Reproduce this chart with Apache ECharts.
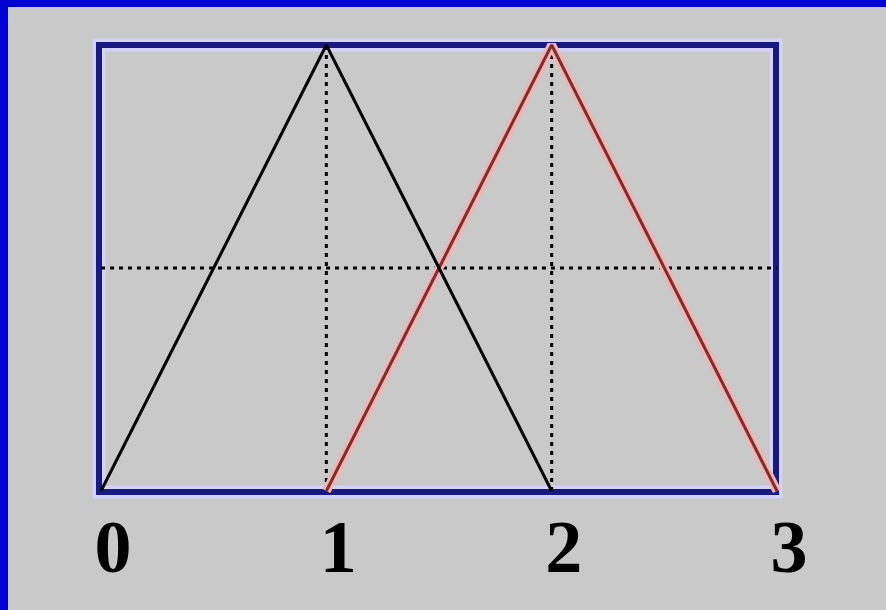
<!DOCTYPE html>
<html>
<head>
<meta charset="utf-8">
<script src="https://cdn.jsdelivr.net/npm/echarts@6/dist/echarts.min.js"></script>
<style>
html, body { margin: 0; padding: 0; background: #c9c9c9; }
#main { width: 886px; height: 610px; }
</style>
</head>
<body>
<div id="main"></div>
<script>
// tick labels on the x axis
var xTicks = [0, 1, 2, 3];
// the two triangular membership functions
var blackTri = [[0, 0], [1, 1], [2, 0]];
var redTri = [[1, 0], [2, 1], [3, 0]];
// dotted guide lines
var guideV1 = [[1, 0], [1, 1]];
var guideV2 = [[2, 0], [2, 1]];
var guideH = [[0, 0.5], [3, 0.5]];

var myChart = echarts.init(document.getElementById('main'));

var gridLeft = 101, gridRight = 109, gridTop = 45, gridBottom = 119;
var plotW = 886 - gridLeft - gridRight;
var plotH = 610 - gridTop - gridBottom;

function dotted(data) {
    return {
        type: 'line', data: data, symbol: 'none', z: 4, silent: true,
        lineStyle: { color: '#000', width: 3, type: [4, 5] }
    };
}

option = {
    backgroundColor: '#c9c9c9',
    animation: false,
    grid: { left: gridLeft, right: gridRight, top: gridTop, bottom: gridBottom },
    xAxis: {
        type: 'value', min: 0, max: 3, interval: 1,
        axisLine: { show: false }, axisTick: { show: false }, splitLine: { show: false },
        axisLabel: {
            margin: 62,
            verticalAlign: 'middle',
            padding: [0, 0, 0, 24],
            fontFamily: 'Liberation Serif',
            fontWeight: 'bold',
            fontSize: 74,
            color: '#000',
            formatter: function (v) { return xTicks.indexOf(v) >= 0 ? String(v) : ''; }
        }
    },
    yAxis: {
        type: 'value', min: 0, max: 1,
        show: false
    },
    graphic: [
        { type: 'rect', z: 0, shape: { x: 0, y: 0, width: 886, height: 7 }, style: { fill: '#0000d2' } },
        { type: 'rect', z: 0, shape: { x: 0, y: 0, width: 8, height: 610 }, style: { fill: '#0000d2' } },
        { type: 'rect', z: 1, shape: { x: gridLeft - 2, y: gridTop, width: plotW + 1, height: plotH + 1 },
          style: { fill: 'none', stroke: '#d2d2fa', lineWidth: 13 } },
        { type: 'rect', z: 2, shape: { x: gridLeft - 2, y: gridTop, width: plotW + 1, height: plotH + 1 },
          style: { fill: 'none', stroke: '#191982', lineWidth: 6 } }
    ],
    series: [
        dotted(guideV1),
        dotted(guideV2),
        dotted(guideH),
        {
            type: 'line', data: redTri, symbol: 'none', z: 5, silent: true,
            lineStyle: { color: '#f0b4b4', width: 9 }
        },
        {
            type: 'line', data: redTri, symbol: 'none', z: 6, silent: true,
            lineStyle: { color: '#7e2e2e', width: 3 }
        },
        {
            type: 'line', data: blackTri, symbol: 'none', z: 7, silent: true,
            lineStyle: { color: '#000', width: 3 }
        }
    ]
};

myChart.setOption(option);
</script>
</body>
</html>
